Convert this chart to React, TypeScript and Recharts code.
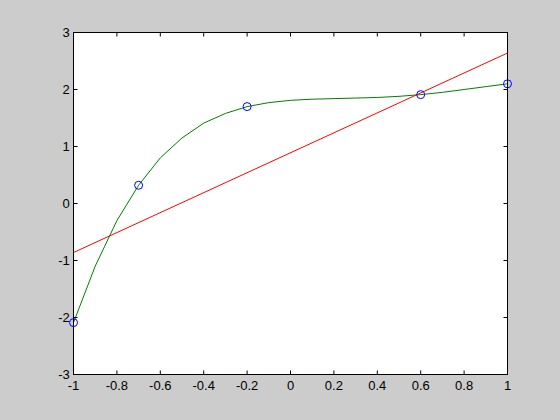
import React from 'react';
import { ComposedChart, Line, Scatter, XAxis, YAxis, CartesianGrid } from 'recharts';

// Sample points (blue circles)
const pointX = [-1, -0.7, -0.2, 0.6, 1];
const pointY = [-2.09, 0.32, 1.70, 1.91, 2.10];

// Green curve read at steps of 0.1
const curveX = [-1, -0.9, -0.8, -0.7, -0.6, -0.5, -0.4, -0.3, -0.2, -0.1, 0, 0.1, 0.2, 0.3, 0.4, 0.5, 0.6, 0.7, 0.8, 0.9, 1];
const curveY = [-2.09, -1.10, -0.30, 0.32, 0.80, 1.15, 1.41, 1.58, 1.70, 1.77, 1.81, 1.83, 1.84, 1.85, 1.86, 1.88, 1.91, 1.95, 2.00, 2.05, 2.10];

// Red straight line end points
const lineX = [-1, 1];
const lineY = [-0.86, 2.64];

const xTicks = [-1, -0.8, -0.6, -0.4, -0.2, 0, 0.2, 0.4, 0.6, 0.8, 1];
const yTicks = [-3, -2, -1, 0, 1, 2, 3];

const points = pointX.map((x, i) => ({ x, y: pointY[i] }));
const curve = curveX.map((x, i) => ({ x, y: curveY[i] }));
const line = lineX.map((x, i) => ({ x, y: lineY[i] }));

const FONT = '"Liberation Sans", Arial, sans-serif';
const TL = 4;

const BottomTick = (props: any) => {
  const { x, y, payload } = props;
  return (
    <g>
      <line x1={x} y1={y} x2={x} y2={y - TL} stroke="#000" strokeWidth={1} />
      <text x={x} y={y + 6.5} dy="0.71em" textAnchor="middle" fill="#000" fontSize={13} fontFamily={FONT}>
        {String(payload.value)}
      </text>
    </g>
  );
};

const TopTick = (props: any) => {
  const { x, y } = props;
  return <line x1={x} y1={y} x2={x} y2={y + TL} stroke="#000" strokeWidth={1} />;
};

const LeftTick = (props: any) => {
  const { x, y, payload } = props;
  return (
    <g>
      <line x1={x} y1={y} x2={x + TL} y2={y} stroke="#000" strokeWidth={1} />
      <text x={x - 3.7} y={y} dy="0.355em" textAnchor="end" fill="#000" fontSize={13} fontFamily={FONT}>
        {String(payload.value)}
      </text>
    </g>
  );
};

const RightTick = (props: any) => {
  const { x, y } = props;
  return <line x1={x} y1={y} x2={x - TL} y2={y} stroke="#000" strokeWidth={1} />;
};

const Circle = (props: any) => {
  const { cx, cy } = props;
  return <circle cx={cx} cy={cy} r={4} fill="none" stroke="#0000ff" strokeWidth={1} />;
};

export default function App() {
  return (
    <div style={{ position: 'fixed', left: 0, top: 0, width: 560, height: 420, background: '#cccccc' }}>
      <ComposedChart
        width={560}
        height={420}
        margin={{ top: 31.5, left: 72.5, right: 51.5, bottom: 44.5 }}
      >
        <CartesianGrid fill="#ffffff" fillOpacity={1} horizontal={false} vertical={false} />
        <XAxis
          type="number"
          dataKey="x"
          domain={[-1, 1]}
          ticks={xTicks}
          height={1}
          tickSize={0}
          tickMargin={0}
          tickLine={false}
          tick={<BottomTick />}
          axisLine={{ stroke: '#000' }}
        />
        <XAxis
          xAxisId="top"
          orientation="top"
          type="number"
          dataKey="x"
          domain={[-1, 1]}
          allowDataOverflow
          ticks={xTicks}
          height={1}
          tickSize={0}
          tickMargin={0}
          tickLine={false}
          tick={<TopTick />}
          axisLine={{ stroke: '#000' }}
        />
        <YAxis
          type="number"
          dataKey="y"
          domain={[-3, 3]}
          ticks={yTicks}
          width={1}
          tickSize={0}
          tickMargin={0}
          tickLine={false}
          tick={<LeftTick />}
          axisLine={{ stroke: '#000' }}
        />
        <YAxis
          yAxisId="right"
          orientation="right"
          type="number"
          dataKey="y"
          domain={[-3, 3]}
          allowDataOverflow
          ticks={yTicks}
          width={1}
          tickSize={0}
          tickMargin={0}
          tickLine={false}
          tick={<RightTick />}
          axisLine={{ stroke: '#000' }}
        />
        <Scatter data={points} dataKey="y" shape={<Circle />} isAnimationActive={false} />
        <Line data={curve} dataKey="y" type="linear" stroke="#008000" strokeWidth={1} dot={false} activeDot={false} isAnimationActive={false} />
        <Line data={line} dataKey="y" type="linear" stroke="#ff0000" strokeWidth={1} dot={false} activeDot={false} isAnimationActive={false} />
      </ComposedChart>
    </div>
  );
}
